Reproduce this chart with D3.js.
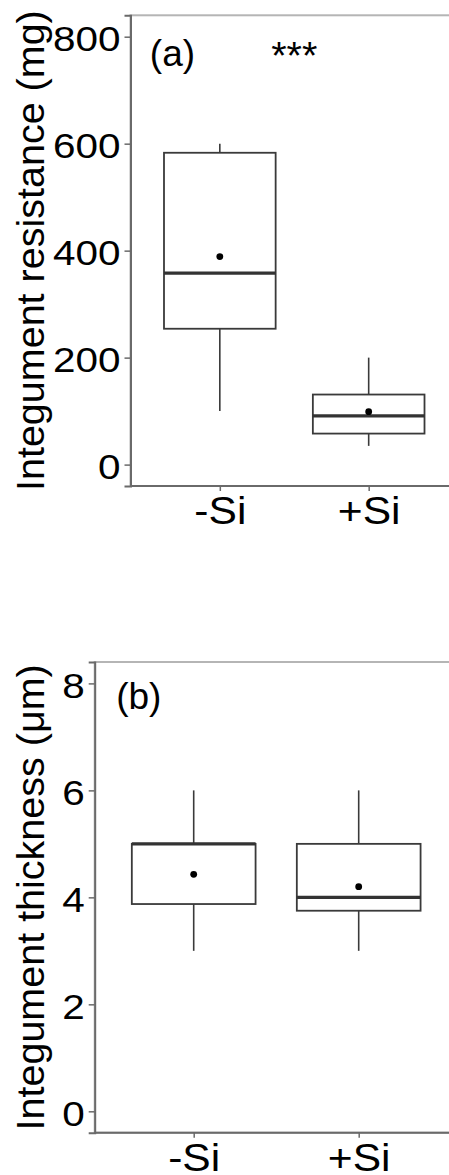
<!DOCTYPE html>
<html>
<head>
<meta charset="utf-8">
<script src="https://cdn.jsdelivr.net/npm/d3@7"></script>
<style>
  html, body { margin: 0; padding: 0; background: #fff; }
  svg { display: block; }
  text { font-family: "Liberation Sans", Arial, sans-serif; fill: #000; }
</style>
</head>
<body>
<svg id="chart" width="449" height="1175"></svg>
<script>
// Treatments
const categories = ["-Si", "+Si"];

// (a) Integument resistance (mg): box-plot summaries per treatment
const resistanceLow    = [100, 35];
const resistanceQ1     = [254, 58];
const resistanceMedian = [358, 91];
const resistanceQ3     = [583, 131];
const resistanceHigh   = [600, 200];
const resistanceMean   = [389, 99];
const resistanceTicks  = [0, 200, 400, 600, 800];

// (b) Integument thickness (µm)
const thicknessLow    = [3, 3];
const thicknessQ1     = [3.875, 3.75];
const thicknessMedian = [5, 4];
const thicknessQ3     = [5, 5];
const thicknessHigh   = [6, 6];
const thicknessMean   = [4.43, 4.2];
const thicknessTicks  = [0, 2, 4, 6, 8];

const svg = d3.select("#chart");

// widen tick labels slightly (the axis lettering is set a little wide)
function widen(sel, factor) {
  sel.each(function () {
    const len = this.getComputedTextLength();
    d3.select(this).attr("textLength", len * factor).attr("lengthAdjust", "spacingAndGlyphs");
  });
}

function panel(cfg) {
  const g = svg.append("g");
  const x = d3.scalePoint().domain(categories).range([cfg.left, cfg.right]).padding(0.6);
  const unit = x.step();
  // continuous companion scale in category units (1 = first category)
  const xu = d3.scaleLinear().domain([1, 2]).range([x(categories[0]), x(categories[1])]);
  const y = d3.scaleLinear().domain(cfg.domain).range([cfg.bottom, cfg.top]);

  // panel frame
  g.append("rect")
    .attr("x", cfg.left).attr("y", cfg.top)
    .attr("width", cfg.right - cfg.left).attr("height", cfg.bottom - cfg.top)
    .attr("fill", "none").attr("stroke", "#b5b5b5").attr("stroke-width", 2);

  // boxes
  const rows = categories.map((c, i) => ({
    c, lo: cfg.low[i], q1: cfg.q1[i], med: cfg.median[i], q3: cfg.q3[i], hi: cfg.high[i], mean: cfg.mean[i]
  }));
  const bw = unit * 0.75;
  const b = g.selectAll("g.box").data(rows).join("g").attr("class", "box");
  b.append("line")
    .attr("x1", d => x(d.c)).attr("x2", d => x(d.c))
    .attr("y1", d => y(d.hi)).attr("y2", d => y(d.q3))
    .attr("stroke", "#3a3a3a").attr("stroke-width", 1.6);
  b.append("line")
    .attr("x1", d => x(d.c)).attr("x2", d => x(d.c))
    .attr("y1", d => y(d.q1)).attr("y2", d => y(d.lo))
    .attr("stroke", "#3a3a3a").attr("stroke-width", 1.6);
  b.append("rect")
    .attr("x", d => x(d.c) - bw / 2).attr("width", bw)
    .attr("y", d => y(d.q3)).attr("height", d => y(d.q1) - y(d.q3))
    .attr("fill", "#fff").attr("stroke", "#3a3a3a").attr("stroke-width", 1.8);
  b.append("line")
    .attr("x1", d => x(d.c) - bw / 2).attr("x2", d => x(d.c) + bw / 2)
    .attr("y1", d => y(d.med)).attr("y2", d => y(d.med))
    .attr("stroke", "#333").attr("stroke-width", 3.2);
  b.append("circle")
    .attr("cx", d => x(d.c)).attr("cy", d => y(d.mean)).attr("r", 3.4)
    .attr("fill", "#000");

  // y axis
  const ya = g.append("g").attr("transform", `translate(${cfg.left},0)`)
    .call(d3.axisLeft(y).tickValues(cfg.ticks).tickSizeOuter(0).tickSize(6).tickPadding(4));
  ya.select(".domain").attr("stroke", "#6a6a6a").attr("stroke-width", 2);
  ya.selectAll(".tick line").attr("stroke", "#6a6a6a").attr("stroke-width", 1.5);
  ya.selectAll(".tick text")
    .attr("font-family", "Liberation Sans, Arial, sans-serif")
    .attr("font-size", 35.5).attr("fill", "#000").attr("dy", "0.39em")
    .call(widen, 1.14);

  // x axis
  const xa = g.append("g").attr("transform", `translate(0,${cfg.bottom})`)
    .call(d3.axisBottom(x).tickSizeOuter(0).tickSize(5).tickPadding(6));
  xa.select(".domain").attr("stroke", "#6a6a6a").attr("stroke-width", 2)
    .attr("d", `M${cfg.left},0H${cfg.right}`);
  xa.selectAll(".tick line").attr("stroke", "#6a6a6a").attr("stroke-width", 1.5);
  xa.selectAll(".tick text")
    .attr("font-family", "Liberation Sans, Arial, sans-serif")
    .attr("font-size", 38).attr("fill", "#000").attr("dy", "0.72em")
    .call(widen, 1.12);

  // y axis title
  g.append("text")
    .attr("transform", `translate(43.5,${(cfg.top + cfg.bottom) / 2}) rotate(-90)`)
    .attr("text-anchor", "middle").attr("font-size", 39.5)
    .text(cfg.title);

  // panel letter
  g.append("text")
    .attr("x", xu(0.53)).attr("y", y(cfg.letterY))
    .attr("font-size", 37).text(cfg.letter);

  if (cfg.sig) {
    g.append("text")
      .attr("x", xu(1.5)).attr("y", y(cfg.sigY))
      .attr("text-anchor", "middle").attr("font-size", 39.5).text(cfg.sig);
  }
}

panel({
  left: 130.5, right: 458, top: 15.3, bottom: 486,
  domain: [-40, 840], ticks: resistanceTicks,
  low: resistanceLow, q1: resistanceQ1, median: resistanceMedian,
  q3: resistanceQ3, high: resistanceHigh, mean: resistanceMean,
  title: "Integument resistance (mg)",
  letter: "(a)", letterY: 745, sig: "***", sigY: 740
});

panel({
  left: 94.7, right: 457.7, top: 662, bottom: 1132.7,
  domain: [-0.4, 8.4], ticks: thicknessTicks,
  low: thicknessLow, q1: thicknessQ1, median: thicknessMedian,
  q3: thicknessQ3, high: thicknessHigh, mean: thicknessMean,
  title: "Integument thickness (\u03BCm)",
  letter: "(b)", letterY: 7.53
});
</script>
</body>
</html>
